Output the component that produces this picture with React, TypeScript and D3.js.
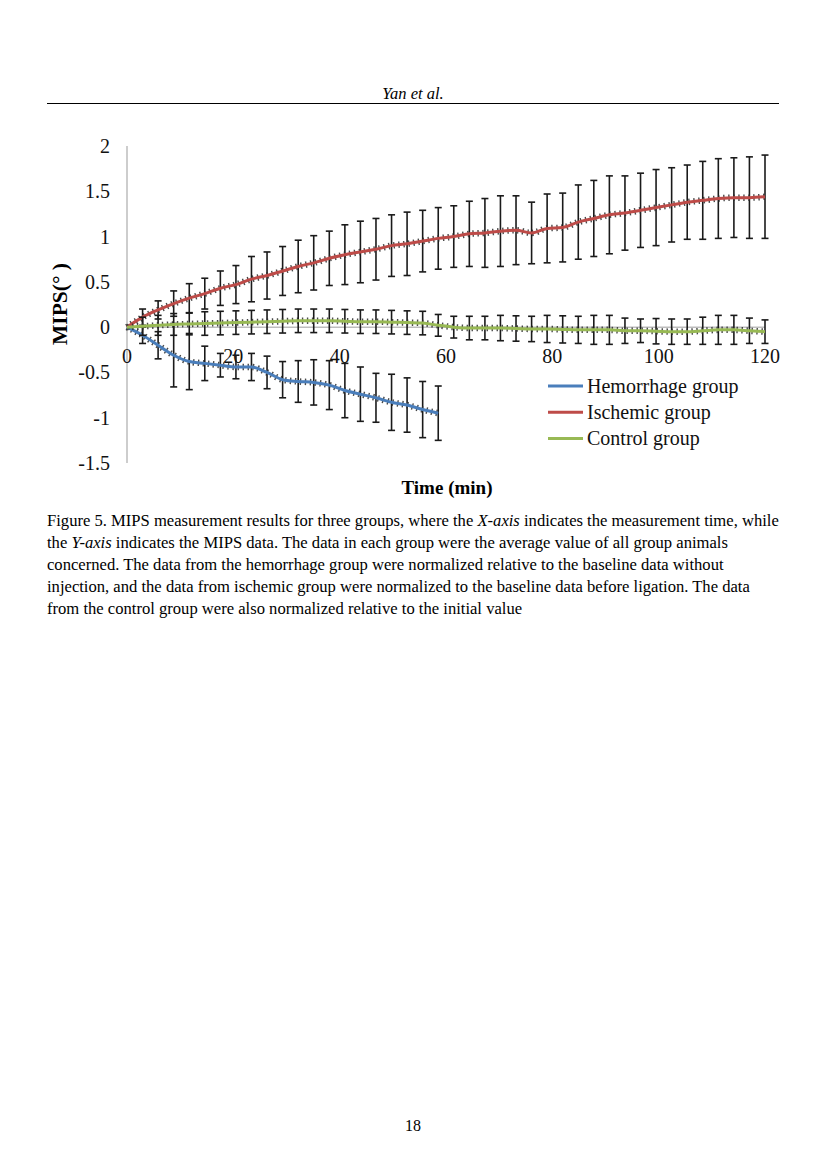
import React from "react";
import * as d3 from "d3";

// ---- data ----
const TIMES = [0, 2.93, 5.85, 8.78, 11.71, 14.63, 17.56, 20.49, 23.41, 26.34, 29.27, 32.2, 35.12, 38.05, 40.98, 43.9, 46.83, 49.76, 52.68, 55.61, 58.54, 61.46, 64.39, 67.32, 70.24, 73.17, 76.1, 79.02, 81.95, 84.88, 87.8, 90.73, 93.66, 96.59, 99.51, 102.44, 105.37, 108.29, 111.22, 114.15, 117.07, 120];

const HEMORRHAGE = [0, -0.09, -0.2, -0.31, -0.38, -0.4, -0.42, -0.44, -0.44, -0.5, -0.58, -0.6, -0.61, -0.64, -0.7, -0.74, -0.78, -0.83, -0.86, -0.91, -0.95];
const HEMORRHAGE_ERR = [0, 0.09, 0.15, 0.35, 0.31, 0.19, 0.13, 0.13, 0.15, 0.18, 0.2, 0.23, 0.25, 0.27, 0.3, 0.3, 0.27, 0.31, 0.3, 0.31, 0.3];

const ISCHEMIC = [0, 0.11, 0.19, 0.26, 0.32, 0.37, 0.43, 0.47, 0.53, 0.57, 0.62, 0.67, 0.71, 0.76, 0.8, 0.83, 0.86, 0.9, 0.92, 0.95, 0.98, 1.0, 1.03, 1.04, 1.06, 1.07, 1.04, 1.09, 1.1, 1.16, 1.2, 1.24, 1.26, 1.29, 1.32, 1.35, 1.38, 1.4, 1.42, 1.43, 1.43, 1.44];
const ISCHEMIC_ERR = [0, 0.09, 0.1, 0.14, 0.16, 0.17, 0.19, 0.21, 0.25, 0.26, 0.27, 0.29, 0.3, 0.3, 0.33, 0.34, 0.34, 0.34, 0.35, 0.34, 0.34, 0.34, 0.36, 0.38, 0.39, 0.38, 0.34, 0.38, 0.38, 0.41, 0.42, 0.43, 0.41, 0.41, 0.42, 0.41, 0.41, 0.43, 0.44, 0.44, 0.45, 0.46];

const CONTROL = [0, 0.01, 0.02, 0.03, 0.035, 0.04, 0.045, 0.05, 0.055, 0.06, 0.065, 0.07, 0.07, 0.07, 0.065, 0.06, 0.06, 0.055, 0.05, 0.045, 0.02, 0.0, -0.01, -0.01, -0.01, -0.015, -0.02, -0.02, -0.025, -0.03, -0.03, -0.03, -0.04, -0.04, -0.045, -0.05, -0.05, -0.04, -0.03, -0.03, -0.04, -0.05];
const CONTROL_ERR = [0, 0.1, 0.11, 0.12, 0.12, 0.13, 0.13, 0.13, 0.13, 0.13, 0.13, 0.13, 0.13, 0.13, 0.13, 0.13, 0.13, 0.13, 0.13, 0.13, 0.12, 0.12, 0.13, 0.13, 0.14, 0.14, 0.14, 0.15, 0.15, 0.15, 0.16, 0.16, 0.14, 0.13, 0.14, 0.14, 0.14, 0.15, 0.16, 0.16, 0.14, 0.13];

const SERIES_NAMES = ["Hemorrhage group", "Ischemic group", "Control group"];
const SERIES_COLORS = ["#4a7ebb", "#be4b48", "#98b954"];
const X_TICKS = [0, 20, 40, 60, 80, 100, 120];
const Y_TICKS = [2, 1.5, 1, 0.5, 0, -0.5, -1, -1.5];

const CAPTION_LINES = [
  [{ t: "Figure 5. MIPS measurement results for three groups, where the " }, { t: "X-axis", i: true }, { t: " indicates the measurement time, while" }],
  [{ t: "the " }, { t: "Y-axis", i: true }, { t: " indicates the MIPS data. The data in each group were the average value of all group animals" }],
  [{ t: "concerned. The data from the hemorrhage group were normalized relative to the baseline data without" }],
  [{ t: "injection, and the data from ischemic group were normalized to the baseline data before ligation. The data" }],
  [{ t: "from the control group were also normalized relative to the initial value" }],
];

const SERIF = "'Liberation Serif', 'Times New Roman', serif";

export default function App() {
  const x = d3.scaleLinear().domain([0, 120]).range([127, 765]);
  const y = d3.scaleLinear().domain([-1.5, 2]).range([463, 146]);

  const series = [
    { vals: HEMORRHAGE, errs: HEMORRHAGE_ERR },
    { vals: ISCHEMIC, errs: ISCHEMIC_ERR },
    { vals: CONTROL, errs: CONTROL_ERR },
  ];

  const line = d3
    .line<number>()
    .x((_, i) => x(TIMES[i]))
    .y((d) => y(d))
    .curve(d3.curveMonotoneX);

  return (
    <div style={{ position: "absolute", left: 0, top: 0 }}>
      <svg width={827} height={1170} style={{ display: "block", background: "#fff" }}>
        {/* header */}
        <text x={413} y={99} textAnchor="middle" fontFamily={SERIF} fontStyle="italic" fontSize={16.5}>
          Yan et al.
        </text>
        <line x1={47} x2={779} y1={103.5} y2={103.5} stroke="#000" strokeWidth={1} />

        {/* axes */}
        <line x1={x(0)} x2={x(0)} y1={y(2)} y2={y(-1.5)} stroke="#bdbdbd" strokeWidth={1.5} />
        <line x1={x(0)} x2={x(120)} y1={y(0)} y2={y(0)} stroke="#bdbdbd" strokeWidth={1.5} />
        {Y_TICKS.map((t) => (
          <text key={t} x={110} y={y(t)} dy="0.35em" textAnchor="end" fontFamily={SERIF} fontSize={20} fill="#111">
            {t}
          </text>
        ))}
        {X_TICKS.map((t) => (
          <text key={t} x={x(t)} y={363} textAnchor="middle" fontFamily={SERIF} fontSize={20} fill="#111">
            {t}
          </text>
        ))}
        <text
          transform={`translate(67,304) rotate(-90)`}
          textAnchor="middle"
          fontFamily={SERIF}
          fontWeight="bold"
          fontSize={21.5}
        >
          MIPS(° )
        </text>
        <text x={447} y={494} textAnchor="middle" fontFamily={SERIF} fontWeight="bold" fontSize={19}>
          Time (min)
        </text>

        {/* series */}
        {series.map((s, si) => (
          <g key={si}>
            {s.vals.map((v, i) =>
              i === 0 ? null : (
                <g key={i} stroke="#1a1a1a" strokeWidth={1.6}>
                  <line x1={x(TIMES[i])} x2={x(TIMES[i])} y1={y(v + s.errs[i])} y2={y(v - s.errs[i])} />
                  <line x1={x(TIMES[i]) - 3.5} x2={x(TIMES[i]) + 3.5} y1={y(v + s.errs[i])} y2={y(v + s.errs[i])} />
                  <line x1={x(TIMES[i]) - 3.5} x2={x(TIMES[i]) + 3.5} y1={y(v - s.errs[i])} y2={y(v - s.errs[i])} />
                </g>
              )
            )}
            <path d={line(s.vals) || ""} fill="none" stroke="#2a2a2a" strokeWidth={6.5} strokeDasharray="1.4 3.6" opacity={0.85} />
            <path d={line(s.vals) || ""} fill="none" stroke={SERIES_COLORS[si]} strokeWidth={3} />
          </g>
        ))}

        {/* legend */}
        {SERIES_NAMES.map((n, i) => (
          <g key={n}>
            <line x1={548} x2={583} y1={386 + i * 26.2} y2={386 + i * 26.2} stroke={SERIES_COLORS[i]} strokeWidth={3} />
            <text x={587} y={386 + i * 26.2} dy="0.33em" fontFamily={SERIF} fontSize={20} fill="#111">
              {n}
            </text>
          </g>
        ))}

        {/* caption */}
        {CAPTION_LINES.map((parts, li) => (
          <text key={li} x={47} y={526 + li * 21.9} fontFamily={SERIF} fontSize={16.6} fill="#000">
            {parts.map((p, pi) => (
              <tspan key={pi} fontStyle={p.i ? "italic" : "normal"}>
                {p.t}
              </tspan>
            ))}
          </text>
        ))}

        <text x={413} y={1131} textAnchor="middle" fontFamily={SERIF} fontSize={16}>
          18
        </text>
      </svg>
    </div>
  );
}
